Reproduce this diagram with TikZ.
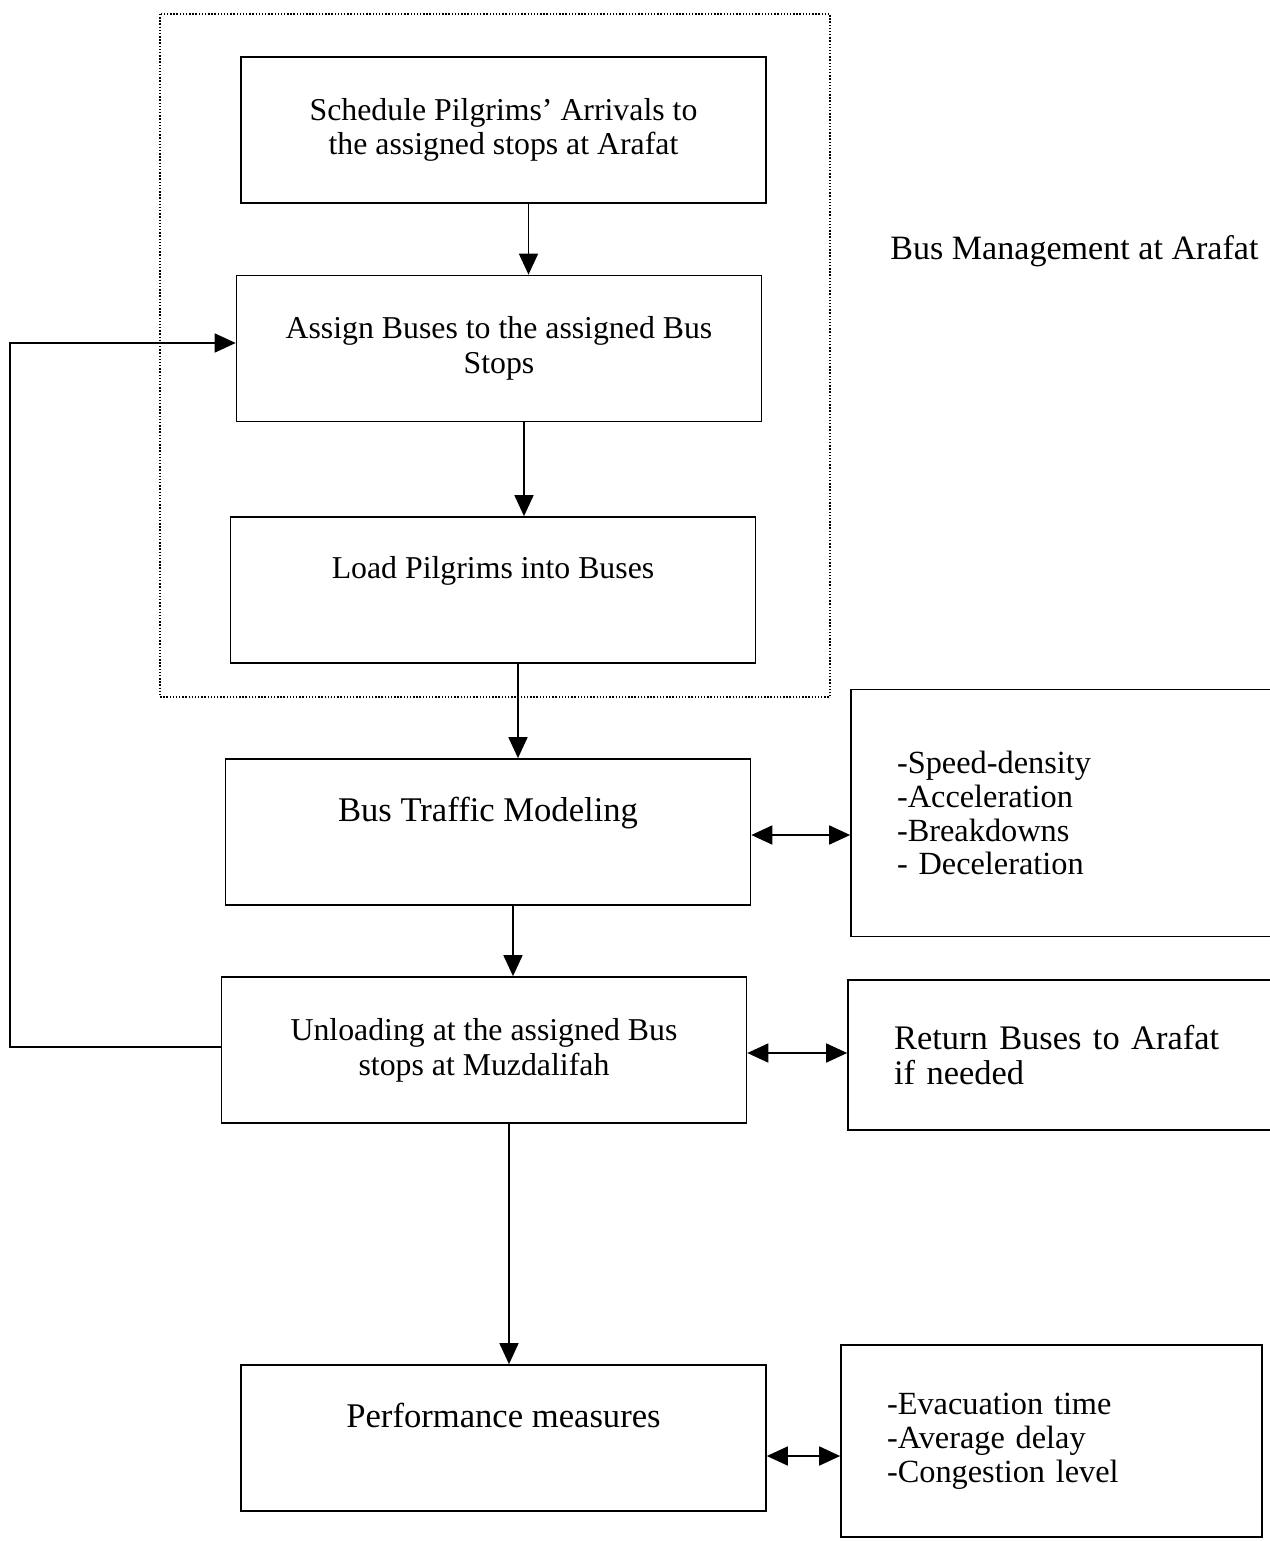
\documentclass[tikz,border=0pt]{standalone}
\usepackage{fontspec}
\setmainfont{Liberation Serif}
\usetikzlibrary{arrows.meta}

\tikzset{
	box/.style={draw, line width=1pt, minimum width=10.5cm, minimum height=2.92cm, align=center, font=\fontsize{18.1}{19.8}\selectfont},
	bigbox/.style={box, font=\fontsize{19.7}{19.8}\selectfont},
	sidebox/.style={draw, line width=1pt, align=left, inner xsep=0.92cm, font=\fontsize{18.4}{19.3}\selectfont},
	arr/.style={line width=1pt, -{Triangle[length=0.42cm,width=0.38cm]}},
	dbl/.style={line width=1pt, {Triangle[length=0.42cm,width=0.38cm]}-{Triangle[length=0.42cm,width=0.38cm]}},
}

\begin{document}
\begin{tikzpicture}[x=0.02cm, y=-0.02cm]

	\useasboundingbox (0,0) rectangle (1270,1541);
	\clip (0,0) rectangle (1270,1541);

	\draw[densely dotted, line width=0.8pt] (160,14) rectangle (830,697);

	\node[box] (sched) at (503.5,130) {Schedule Pilgrims' Arrivals to\\the assigned stops at Arafat};
	\node[box] (assign) at (499,348.5) {Assign Buses to the assigned Bus\\Stops};
	\node[box, text depth=0.9cm] (load) at (493,590) {Load Pilgrims into Buses};
	\node[bigbox, text depth=0.9cm] (model) at (488,832) {Bus Traffic Modeling};
	\node[box] (unload) at (484,1050) {Unloading at the assigned Bus\\stops at Muzdalifah};
	\node[bigbox, text depth=0.9cm] (perf) at (503.5,1438) {Performance measures};

	\node[sidebox, text width=7.16cm, minimum height=4.94cm] (factors) at (1076,813) {-Speed-density\\-Acceleration\\-Breakdowns\\- Deceleration};
	\node[sidebox, text width=7.16cm, minimum height=3cm, font=\fontsize{19.6}{19.8}\selectfont] (return) at (1073,1055) {Return Buses to Arafat\\if needed};
	\node[sidebox, text width=6.58cm, minimum height=3.84cm] (measures) at (1051.5,1441) {-Evacuation time\\-Average delay\\-Congestion level};

	\node[anchor=base west, inner xsep=0pt, font=\fontsize{19.4}{20}\selectfont] (title) at (890,259) {Bus Management at Arafat};

	\foreach \a/\b in {sched/assign, assign/load, load/model, model/unload, unload/perf}
		\draw[arr] ([xshift=0.5cm]\a.south) -- ([xshift=0.5cm]\a.south |- \b.north);

	\draw[arr] ([yshift=0.06cm]unload.west) -- ++(-211,0) |- ([yshift=0.11cm]assign.west);

	\draw[dbl] ([yshift=-0.06cm]model.east) -- ([yshift=-0.06cm]model.east -| factors.west);
	\draw[dbl] ([yshift=-0.06cm]unload.east) -- ([yshift=-0.06cm]unload.east -| return.west);
	\draw[dbl] ([yshift=-0.36cm]perf.east) -- ([yshift=-0.36cm]perf.east -| measures.west);

\end{tikzpicture}
\end{document}
